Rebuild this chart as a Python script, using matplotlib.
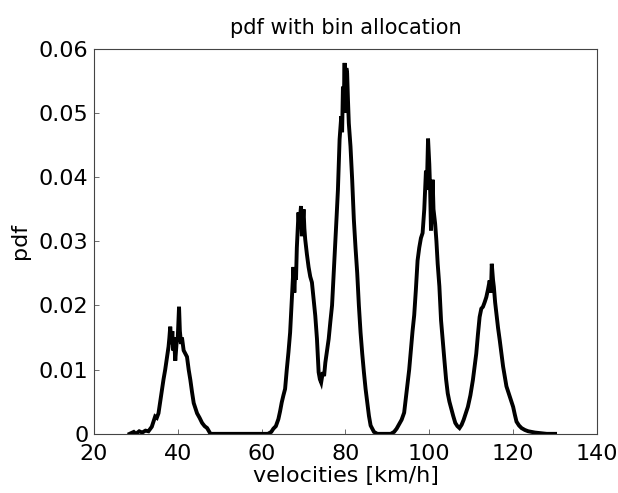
import matplotlib
matplotlib.use("Agg")
import matplotlib.pyplot as plt

plt.rcParams['font.family'] = ['DejaVu Sans']

# velocities [km/h] and pdf values
velocity = [
    28.5, 29.5, 30.0, 30.8, 31.5, 32.3, 33.0, 33.8, 34.6, 35.0, 35.4, 35.8,
    36.2, 36.6, 37.0, 37.4, 37.8, 38.0, 38.2, 38.5, 38.7, 38.9, 39.1, 39.4,
    39.7, 40.0, 40.3, 40.5, 40.8, 41.0, 41.4, 41.8, 42.2, 42.6, 43.0, 43.4,
    43.8, 44.2, 44.6, 45.2, 45.8, 46.4, 47.0, 47.8,
    61.5, 62.3, 62.8, 63.4, 64.0, 64.4, 64.8, 65.2, 65.6, 66.0, 66.4, 66.8,
    67.2, 67.6, 67.8, 68.0, 68.2, 68.4, 68.8, 69.0, 69.2, 69.4, 69.6, 70.0,
    70.2, 70.4, 70.8, 71.2, 71.6, 72.0, 72.4, 72.8, 73.2, 73.6, 73.9, 74.2,
    74.6, 74.9, 75.2, 75.6, 76.0, 76.4, 76.8, 77.2, 77.6, 77.9, 78.2, 78.6,
    79.0, 79.2, 79.4, 79.6, 79.8, 80.0, 80.2, 80.4, 80.6, 80.8, 81.2, 81.6,
    82.0, 82.4, 82.8, 83.2, 83.6, 84.0, 84.4, 84.8, 85.2, 85.6, 86.0, 86.8,
    87.6, 90.8, 91.6, 92.2, 92.8, 93.4, 94.0, 94.4, 94.8, 95.2, 95.6, 96.0,
    96.4, 96.8, 97.2, 97.6, 98.0, 98.4, 98.8, 99.2, 99.4, 99.7, 100.0, 100.2,
    100.4, 100.6, 100.8, 101.0, 101.4, 101.7, 102.0, 102.4, 102.8, 103.2,
    103.6, 104.0, 104.4, 104.8, 105.2, 105.7, 106.2, 106.7, 107.2, 107.7,
    108.2, 108.7, 109.2, 109.8, 110.4, 110.8, 111.2, 111.6, 112.0, 112.4,
    112.8, 113.2, 113.6, 114.0, 114.4, 114.7, 114.9, 115.2, 115.4, 115.7,
    116.0, 116.4, 116.8, 117.2, 117.6, 118.0, 118.4, 118.8, 119.2, 119.6,
    120.0, 120.4, 120.8, 121.4, 122.0, 122.8, 123.6, 124.4, 125.2, 126.5,
    128.0, 130.0,
]

pdf = [
    0.0, 0.0003, 0.0, 0.0004, 0.0002, 0.0005, 0.0004, 0.0011, 0.0027, 0.0025, 0.0032, 0.0050,
    0.0069, 0.0085, 0.0100, 0.0118, 0.0136, 0.0150, 0.0167, 0.0140, 0.0160, 0.0130, 0.0150, 0.0114,
    0.0140, 0.0150, 0.0198, 0.0160, 0.0140, 0.0150, 0.0130, 0.0125, 0.0120, 0.0100, 0.0084, 0.0065,
    0.0048, 0.0040, 0.0032, 0.0025, 0.0017, 0.0012, 0.0009, 0.0,
    0.0, 0.0003, 0.0008, 0.0012, 0.0023, 0.0035, 0.0049, 0.0060, 0.0070, 0.0100, 0.0127, 0.0158,
    0.0210, 0.0260, 0.0220, 0.0250, 0.0240, 0.0290, 0.0345, 0.0320, 0.0340, 0.0355, 0.0308, 0.0350,
    0.0320, 0.0303, 0.0280, 0.0260, 0.0245, 0.0236, 0.0210, 0.0184, 0.0148, 0.0096, 0.0085, 0.0080,
    0.0096, 0.0090, 0.0111, 0.0130, 0.0148, 0.0175, 0.0200, 0.0250, 0.0303, 0.0340, 0.0380, 0.0459,
    0.0495, 0.0470, 0.0541, 0.0520, 0.0578, 0.0500, 0.0570, 0.0562, 0.0520, 0.0484, 0.0448, 0.0396,
    0.0334, 0.0290, 0.0251, 0.0200, 0.0158, 0.0125, 0.0096, 0.0070, 0.0049, 0.0028, 0.0013, 0.0003,
    0.0, 0.0, 0.0003, 0.0008, 0.0015, 0.0022, 0.0033, 0.0055, 0.0077, 0.0100, 0.0130, 0.0160,
    0.0185, 0.0225, 0.0270, 0.0290, 0.0305, 0.0313, 0.0350, 0.0410, 0.0380, 0.0460, 0.0420, 0.0380,
    0.0317, 0.0360, 0.0396, 0.0350, 0.0327, 0.0300, 0.0265, 0.0230, 0.0177, 0.0145,
    0.0115, 0.0085, 0.0063, 0.0050, 0.0040, 0.0028, 0.0017, 0.0012, 0.0009, 0.0014,
    0.0022, 0.0032, 0.0042, 0.0060, 0.0084, 0.0105, 0.0125, 0.0155, 0.0182, 0.0195,
    0.0198, 0.0205, 0.0213, 0.0225, 0.0239, 0.0220, 0.0265, 0.0240, 0.0229, 0.0205,
    0.0188, 0.0165, 0.0146, 0.0125, 0.0105, 0.0090, 0.0074, 0.0066, 0.0058, 0.0050,
    0.0042, 0.0030, 0.0019, 0.0013, 0.0009, 0.0006, 0.0004, 0.0003, 0.0002, 0.0001,
    0.0, 0.0,
]

xticks = [20, 40, 60, 80, 100, 120, 140]
yticks = [0, 0.01, 0.02, 0.03, 0.04, 0.05, 0.06]
ytick_labels = ['0', '0.01', '0.02', '0.03', '0.04', '0.05', '0.06']

fig = plt.figure(figsize=(6.18, 4.93), dpi=100)
ax = fig.add_axes([0.152, 0.120, 0.814, 0.781])

ax.plot(velocity, pdf, color='black', linewidth=2.8, solid_joinstyle='miter')

ax.set_xlim(20, 140)
ax.set_ylim(0, 0.06)
ax.set_xticks(xticks)
ax.set_yticks(yticks)
ax.set_yticklabels(ytick_labels)
ax.tick_params(direction='in', length=3.6, width=0.6, labelsize=16, color='#555555')
ax.tick_params(axis='x', pad=7)
ax.tick_params(axis='y', pad=4)
for s in ax.spines.values():
    s.set_linewidth(0.8)
    s.set_color('#444444')

ax.set_title('pdf with bin allocation', fontsize=15, pad=11)
ax.set_xlabel('velocities [km/h]', fontsize=16, labelpad=2)
ax.set_ylabel('pdf', fontsize=16, labelpad=6)

plt.savefig('out.png', dpi=100)
